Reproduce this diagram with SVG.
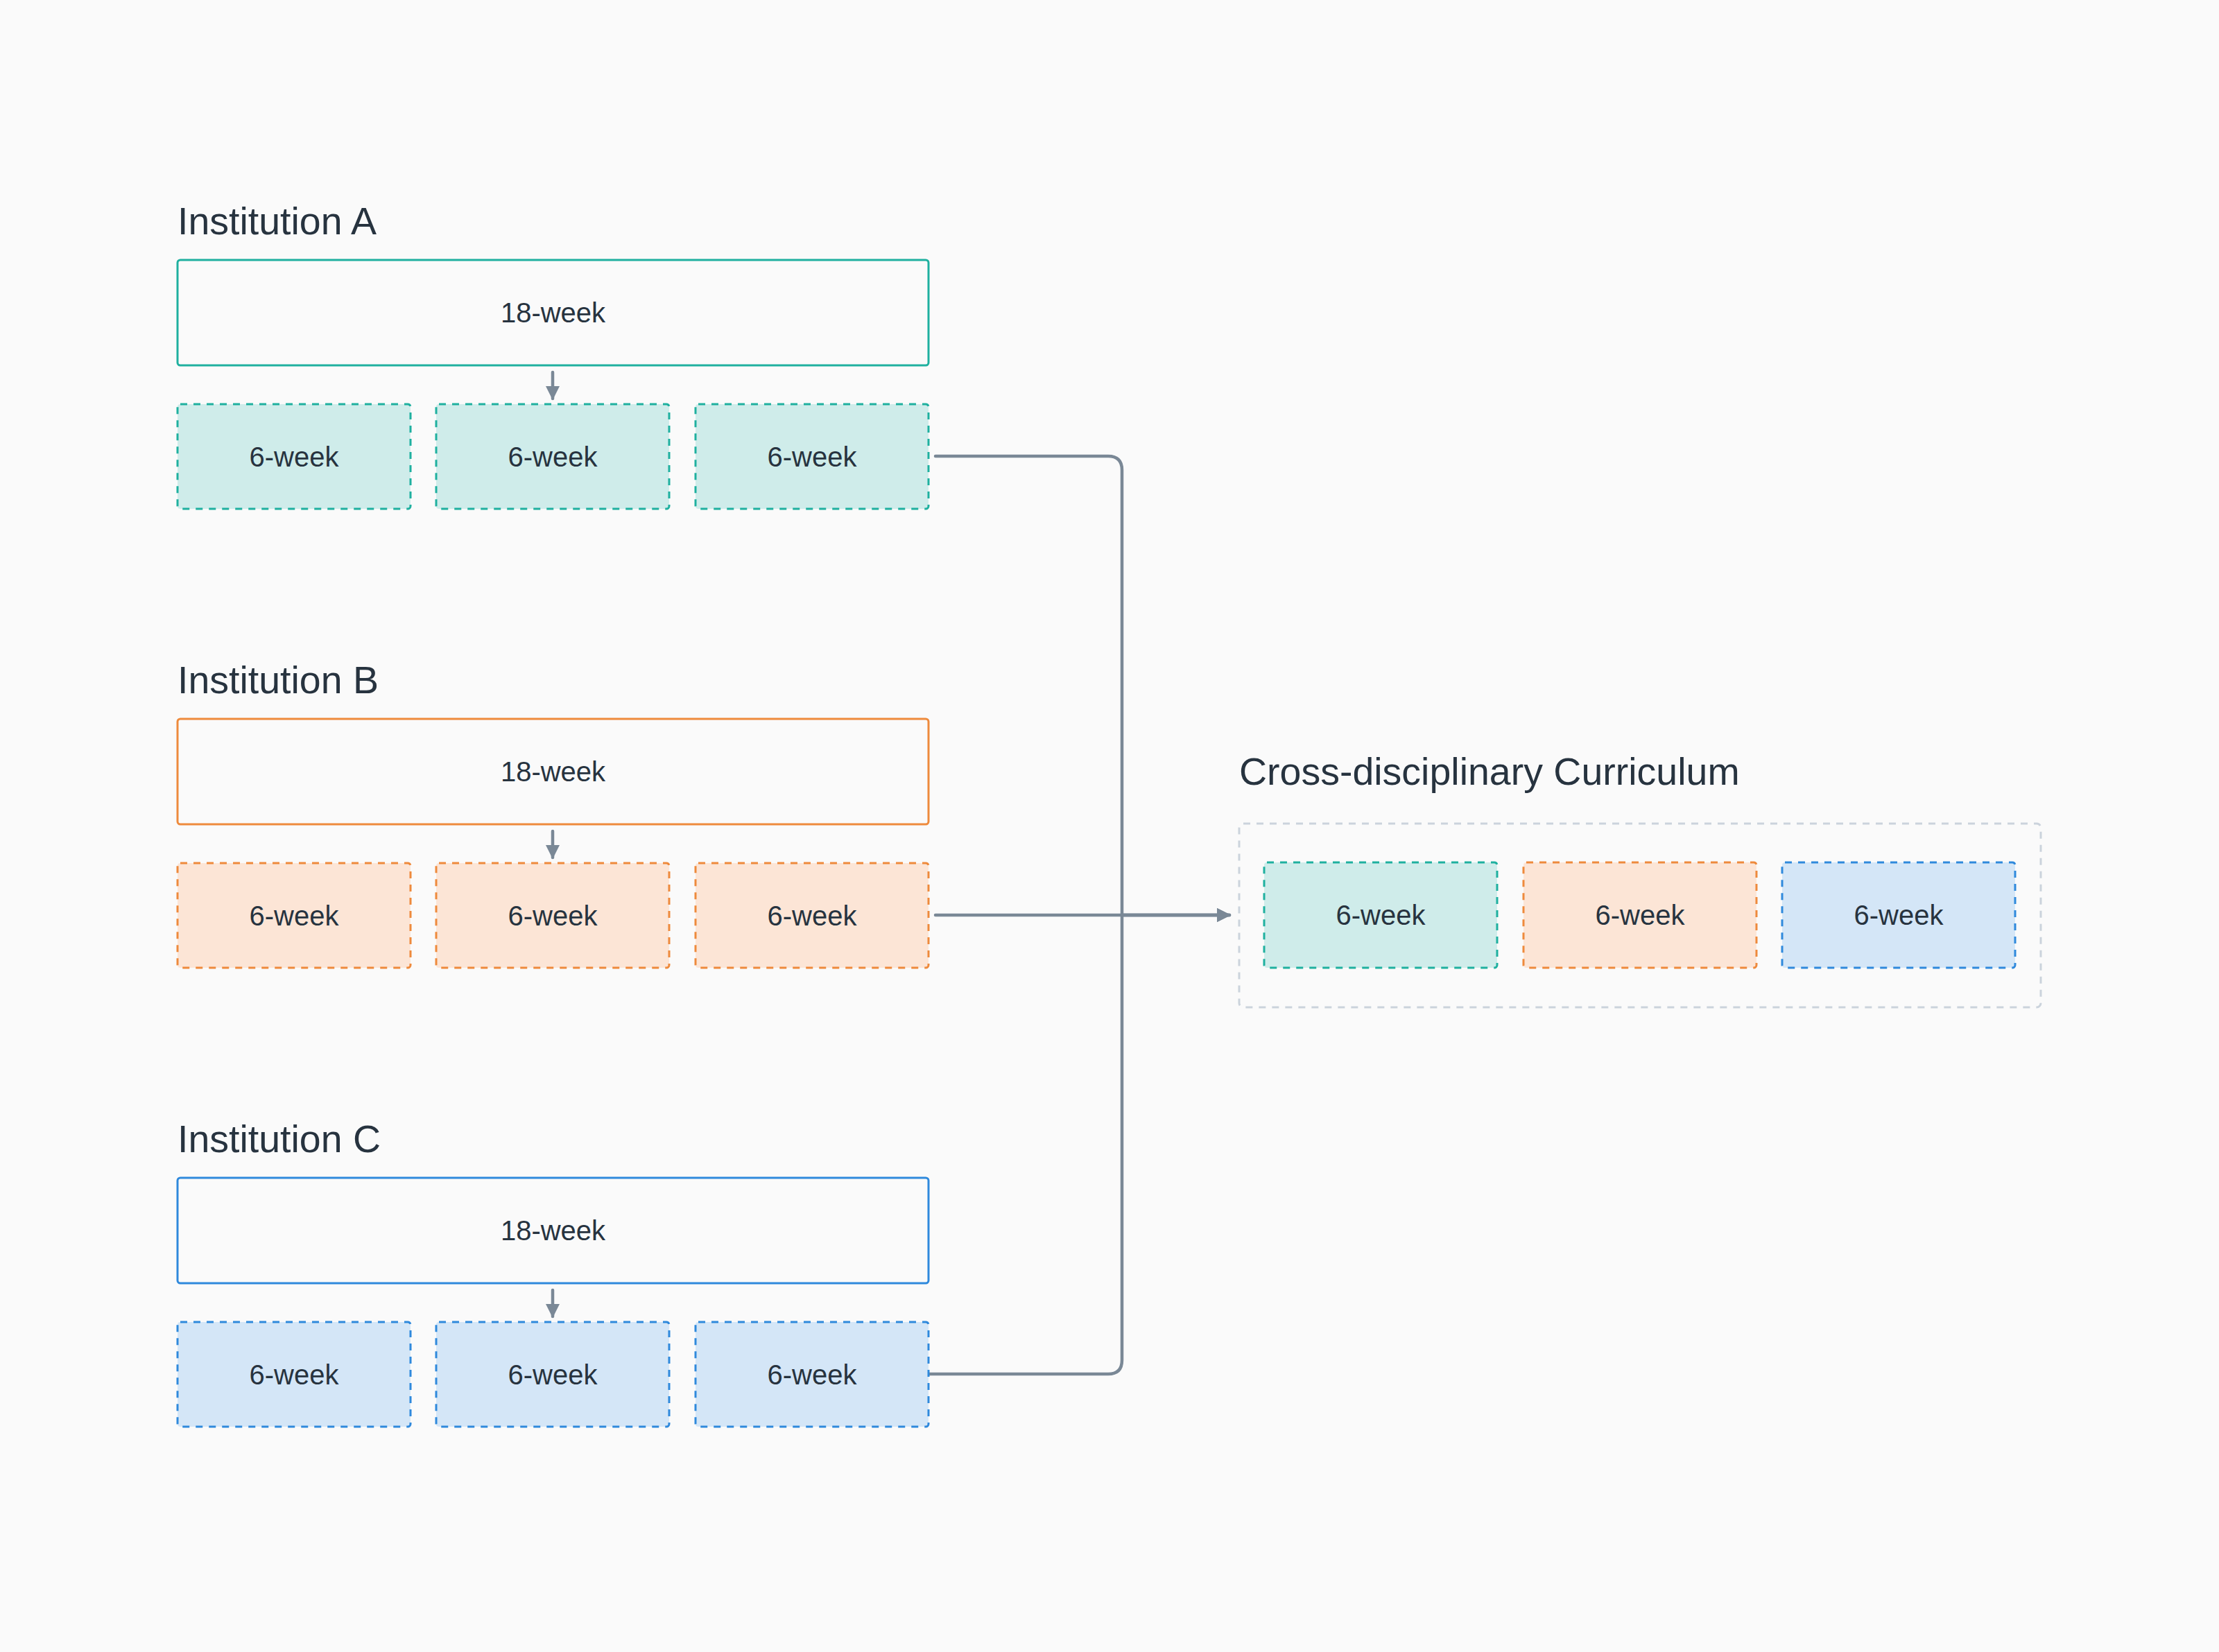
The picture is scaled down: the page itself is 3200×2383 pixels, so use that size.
<svg xmlns="http://www.w3.org/2000/svg" width="3200" height="2383" viewBox="0 0 3200 2383">
<defs>
<style>
.bg{fill:#fafafa}
.h{font-family:"Liberation Sans",Arial,sans-serif;font-size:55.5px;fill:#27333f}
.t{font-family:"Liberation Sans",Arial,sans-serif;font-size:40px;fill:#27333f;text-anchor:middle}
.solid{fill:#fafafa;stroke-width:3}
.dash{stroke-width:3;stroke-dasharray:10 9}
.teal{stroke:#1fb09f}
.orange{stroke:#ee8a3c}
.blue{stroke:#2f89dc}
.fteal{fill:#cfecea}
.forange{fill:#fce5d6}
.fblue{fill:#d4e6f7}
.conn{fill:none;stroke:#7a8896;stroke-width:4.5;stroke-linecap:round;stroke-linejoin:round}
.cont{fill:none;stroke:#cbd3dc;stroke-width:3;stroke-dasharray:10 9}
</style>
<marker id="ah" viewBox="0 0 10 10" refX="9" refY="5" markerWidth="4.5" markerHeight="4.5" markerUnits="strokeWidth" orient="auto">
<path d="M0,0 L10,5 L0,10 z" fill="#7a8896"/>
</marker>
</defs>
<rect class="bg" x="0" y="0" width="3200" height="2383"/>

<g id="connectors">
<path class="conn" d="M797,537 V575" marker-end="url(#ah)"/>
<path class="conn" d="M797,1199 V1237" marker-end="url(#ah)"/>
<path class="conn" d="M797,1861 V1899" marker-end="url(#ah)"/>
<path class="conn" d="M1349,658 H1598 Q1618,658 1618,678 V1320 H1773" marker-end="url(#ah)"/>
<path class="conn" d="M1349,1320 H1773" marker-end="url(#ah)"/>
<path class="conn" d="M1339,1982 H1598 Q1618,1982 1618,1962 V1320 H1773" marker-end="url(#ah)"/>
</g>

<g id="instA">
<text class="h" x="256" y="338">Institution A</text>
<g id="a18"><rect class="solid teal" x="256" y="375" width="1083" height="152" rx="4"/><text class="t" x="797.5" y="465">18-week</text></g>
<g id="a6-1"><rect class="dash teal fteal" x="256" y="583" width="336" height="151" rx="4"/><text class="t" x="424" y="673">6-week</text></g>
<g id="a6-2"><rect class="dash teal fteal" x="629" y="583" width="336" height="151" rx="4"/><text class="t" x="797" y="673">6-week</text></g>
<g id="a6-3"><rect class="dash teal fteal" x="1003" y="583" width="336" height="151" rx="4"/><text class="t" x="1171" y="673">6-week</text></g>
</g>

<g id="instB">
<text class="h" x="256" y="1000">Institution B</text>
<g id="b18"><rect class="solid orange" x="256" y="1037" width="1083" height="152" rx="4"/><text class="t" x="797.5" y="1127">18-week</text></g>
<g id="b6-1"><rect class="dash orange forange" x="256" y="1245" width="336" height="151" rx="4"/><text class="t" x="424" y="1335">6-week</text></g>
<g id="b6-2"><rect class="dash orange forange" x="629" y="1245" width="336" height="151" rx="4"/><text class="t" x="797" y="1335">6-week</text></g>
<g id="b6-3"><rect class="dash orange forange" x="1003" y="1245" width="336" height="151" rx="4"/><text class="t" x="1171" y="1335">6-week</text></g>
</g>

<g id="instC">
<text class="h" x="256" y="1662">Institution C</text>
<g id="c18"><rect class="solid blue" x="256" y="1699" width="1083" height="152" rx="4"/><text class="t" x="797.5" y="1789">18-week</text></g>
<g id="c6-1"><rect class="dash blue fblue" x="256" y="1907" width="336" height="151" rx="4"/><text class="t" x="424" y="1997">6-week</text></g>
<g id="c6-2"><rect class="dash blue fblue" x="629" y="1907" width="336" height="151" rx="4"/><text class="t" x="797" y="1997">6-week</text></g>
<g id="c6-3"><rect class="dash blue fblue" x="1003" y="1907" width="336" height="151" rx="4"/><text class="t" x="1171" y="1997">6-week</text></g>
</g>

<g id="curriculum">
<text class="h" x="1787" y="1132">Cross-disciplinary Curriculum</text>
<rect class="cont" x="1787" y="1188" width="1156" height="265" rx="6"/>
<g id="cur-1"><rect class="dash teal fteal" x="1823" y="1244" width="336" height="152" rx="4"/><text class="t" x="1991" y="1334">6-week</text></g>
<g id="cur-2"><rect class="dash orange forange" x="2197" y="1244" width="336" height="152" rx="4"/><text class="t" x="2365" y="1334">6-week</text></g>
<g id="cur-3"><rect class="dash blue fblue" x="2570" y="1244" width="336" height="152" rx="4"/><text class="t" x="2738" y="1334">6-week</text></g>
</g>
</svg>
